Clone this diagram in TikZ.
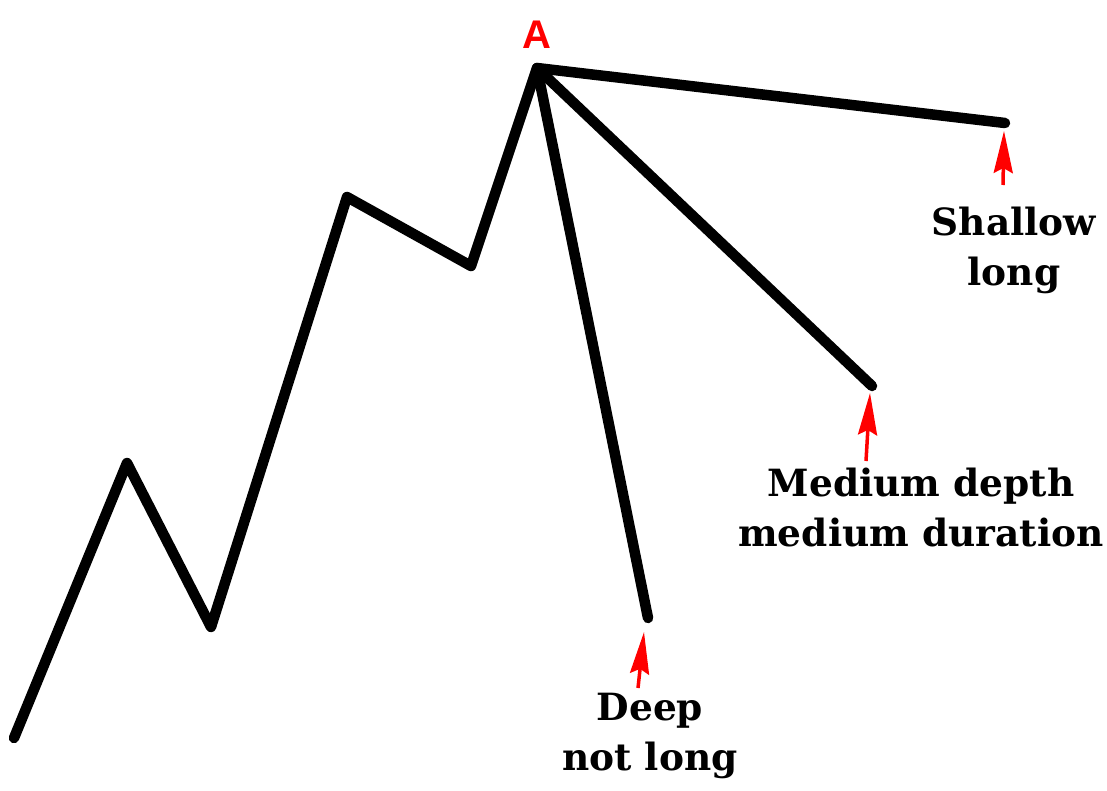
\documentclass[tikz,border=0pt]{standalone}
\usepackage{fontspec}
\setmainfont{DejaVu Serif}
\newfontfamily\labelsans{Liberation Sans}
\usetikzlibrary{arrows.meta}
\tikzset{
  wave/.style={line width=10.5pt, line cap=round, line join=round, black},
  pointer/.style={red, line width=3.5pt, -{Stealth[length=42pt,width=19pt,inset=5pt]}},
  caption/.style={align=center, font=\fontsize{37.5}{50}\selectfont\bfseries, inner sep=0pt},
}
\begin{document}
\begin{tikzpicture}[x=1pt,y=-1pt]
\useasboundingbox (0,0) rectangle (1107,790);
\fill[white] (0,0) rectangle (1107,790);
\coordinate (p0) at (14,738);
\coordinate (p1) at (127,463);
\coordinate (p2) at (211,627);
\coordinate (p3) at (347,197);
\coordinate (p4) at (471,266);
\coordinate (A) at (537,68);
\coordinate (s) at (1005,123);
\coordinate (m) at (872,386);
\coordinate (d) at (648,618);
\draw[wave] (p0) -- (p1) -- (p2) -- (p3) -- (p4) -- (A) -- (s);
\draw[wave] (A) -- (m);
\draw[wave] (A) -- (d);
\node[red, font=\fontsize{40}{44}\selectfont\labelsans\bfseries, inner sep=0pt] (Alab) at (537,35) {A};
% arrows
\coordinate (st) at (1003,185);
\coordinate (sh) at (1004,131);
\coordinate (mt) at (866,461);
\coordinate (mh) at (870,393);
\coordinate (dt) at (638,688);
\coordinate (dh) at (644,632);
\draw[pointer] (st) -- (sh);
\draw[pointer] (mt) -- (mh);
\draw[pointer] (dt) -- (dh);
\node[caption, anchor=north] (slab) at (1014,207) {Shallow\\long};
\node[caption, anchor=north] (mlab) at (921,468) {Medium depth\\medium duration};
\node[caption, anchor=north] (dlab) at (650,693) {Deep\\not long};
\end{tikzpicture}
\end{document}
